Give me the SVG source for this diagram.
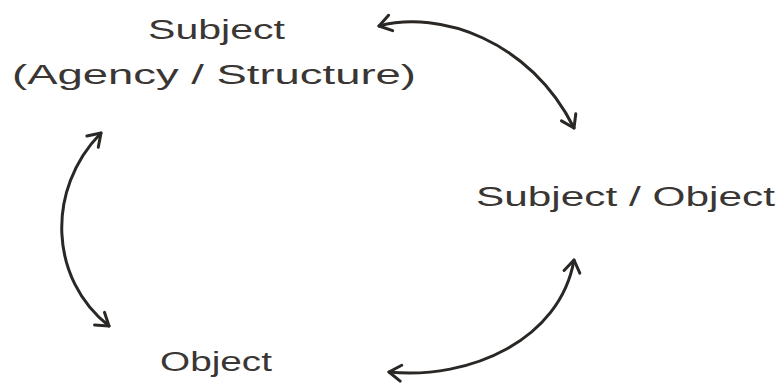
<svg xmlns="http://www.w3.org/2000/svg" width="783" height="383" viewBox="0 0 783 383">
<defs>
<style>
.lbl{font-family:"Liberation Sans","DejaVu Sans",sans-serif;font-size:27px;fill:#3a3633;}
.con{fill:none;stroke:#2a2725;stroke-width:3;stroke-linecap:round;marker-start:url(#ah);marker-end:url(#ah);}
</style>
<marker id="ah" viewBox="0 0 20 20" refX="16" refY="10" markerWidth="20" markerHeight="20" markerUnits="userSpaceOnUse" orient="auto-start-reverse">
<path d="M4,2 L16,10 L4,18" fill="none" stroke="#2a2725" stroke-width="3" stroke-linecap="round" stroke-linejoin="round"/>
</marker>
</defs>
<rect width="783" height="383" fill="#ffffff"/>
<g id="connectors">
<path class="con" d="M379,26 C440,10 530,40 574,128"/>
<path class="con" d="M101,133 C45,190 50,280 109,326"/>
<path class="con" d="M389,372 C470,380 560,340 574,260"/>
</g>
<g id="node-subject">
<text class="lbl" x="148" y="39" textLength="137" lengthAdjust="spacingAndGlyphs">Subject</text>
<text class="lbl" x="12" y="84" textLength="404" lengthAdjust="spacingAndGlyphs">(Agency / Structure)</text>
</g>
<g id="node-subject-object">
<text class="lbl" x="476" y="206" textLength="299" lengthAdjust="spacingAndGlyphs">Subject / Object</text>
</g>
<g id="node-object">
<text class="lbl" x="160" y="371" textLength="112" lengthAdjust="spacingAndGlyphs">Object</text>
</g>
</svg>
